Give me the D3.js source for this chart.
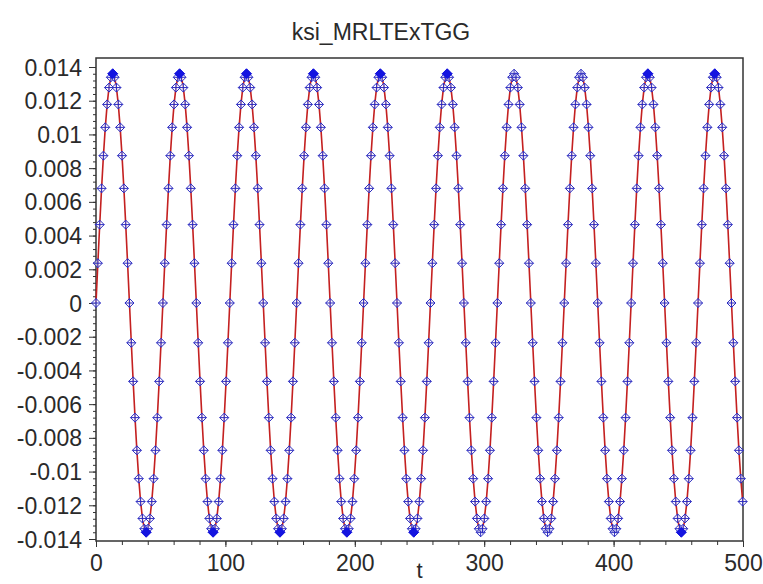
<!DOCTYPE html>
<html><head><meta charset="utf-8">
<script src="https://cdn.jsdelivr.net/npm/d3@7/dist/d3.min.js"></script>
<style>
html,body{margin:0;padding:0;background:#fff;}
svg text{font-family:"Liberation Sans",Arial,sans-serif;fill:#2a2a2a;}
</style></head>
<body>
<svg id="c" width="763" height="584"></svg>
<script>
// ---- data ----
const title = "ksi_MRLTExTGG";
const xLabel = "t";
const tStep = 1.436;            // sampling step of t
const ksi = [
 0,0.00236,0.00465,0.0068,0.00874,0.01042,0.01178,0.01278,0.01339,0.0136,0.01339,0.01278,0.01178,0.01042,0.00874,0.0068,0.00465,0.00236,0,-0.00236,-0.00465,-0.0068,-0.00874,-0.01042,-0.01178,-0.01278,-0.01339,-0.0136,-0.01339,-0.01278,-0.01178,-0.01042,-0.00874,-0.0068,-0.00465,-0.00236,
 0,0.00236,0.00465,0.0068,0.00874,0.01042,0.01178,0.01278,0.01339,0.0136,0.01339,0.01278,0.01178,0.01042,0.00874,0.0068,0.00465,0.00236,0,-0.00236,-0.00465,-0.0068,-0.00874,-0.01042,-0.01178,-0.01278,-0.01339,-0.0136,-0.01339,-0.01278,-0.01178,-0.01042,-0.00874,-0.0068,-0.00465,-0.00236,
 0,0.00236,0.00465,0.0068,0.00874,0.01042,0.01178,0.01278,0.01339,0.0136,0.01339,0.01278,0.01178,0.01042,0.00874,0.0068,0.00465,0.00236,0,-0.00236,-0.00465,-0.0068,-0.00874,-0.01042,-0.01178,-0.01278,-0.01339,-0.0136,-0.01339,-0.01278,-0.01178,-0.01042,-0.00874,-0.0068,-0.00465,-0.00236,
 0,0.00236,0.00465,0.0068,0.00874,0.01042,0.01178,0.01278,0.01339,0.0136,0.01339,0.01278,0.01178,0.01042,0.00874,0.0068,0.00465,0.00236,0,-0.00236,-0.00465,-0.0068,-0.00874,-0.01042,-0.01178,-0.01278,-0.01339,-0.0136,-0.01339,-0.01278,-0.01178,-0.01042,-0.00874,-0.0068,-0.00465,-0.00236,
 0,0.00236,0.00465,0.0068,0.00874,0.01042,0.01178,0.01278,0.01339,0.0136,0.01339,0.01278,0.01178,0.01042,0.00874,0.0068,0.00465,0.00236,0,-0.00236,-0.00465,-0.0068,-0.00874,-0.01042,-0.01178,-0.01278,-0.01339,-0.0136,-0.01339,-0.01278,-0.01178,-0.01042,-0.00874,-0.0068,-0.00465,-0.00236,
 0,0.00236,0.00465,0.0068,0.00874,0.01042,0.01178,0.01278,0.01339,0.0136,0.01339,0.01278,0.01178,0.01042,0.00874,0.0068,0.00465,0.00236,0,-0.00236,-0.00465,-0.0068,-0.00874,-0.01042,-0.01178,-0.01278,-0.01339,-0.0136,-0.01339,-0.01278,-0.01178,-0.01042,-0.00874,-0.0068,-0.00465,-0.00236,
 0,0.00236,0.00465,0.0068,0.00874,0.01042,0.01178,0.01278,0.01339,0.0136,0.01339,0.01278,0.01178,0.01042,0.00874,0.0068,0.00465,0.00236,0,-0.00236,-0.00465,-0.0068,-0.00874,-0.01042,-0.01178,-0.01278,-0.01339,-0.0136,-0.01339,-0.01278,-0.01178,-0.01042,-0.00874,-0.0068,-0.00465,-0.00236,
 0,0.00236,0.00465,0.0068,0.00874,0.01042,0.01178,0.01278,0.01339,0.0136,0.01339,0.01278,0.01178,0.01042,0.00874,0.0068,0.00465,0.00236,0,-0.00236,-0.00465,-0.0068,-0.00874,-0.01042,-0.01178,-0.01278,-0.01339,-0.0136,-0.01339,-0.01278,-0.01178,-0.01042,-0.00874,-0.0068,-0.00465,-0.00236,
 0,0.00236,0.00465,0.0068,0.00874,0.01042,0.01178,0.01278,0.01339,0.0136,0.01339,0.01278,0.01178,0.01042,0.00874,0.0068,0.00465,0.00236,0,-0.00236,-0.00465,-0.0068,-0.00874,-0.01042,-0.01178,-0.01278,-0.01339,-0.0136,-0.01339,-0.01278,-0.01178,-0.01042,-0.00874,-0.0068,-0.00465,-0.00236,
 0,0.00236,0.00465,0.0068,0.00874,0.01042,0.01178,0.01278,0.01339,0.0136,0.01339,0.01278,0.01178,0.01042,0.00874,0.0068,0.00465,0.00236,0,-0.00236,-0.00465,-0.0068,-0.00874,-0.01042,-0.01178
];
// sample indices drawn as solid diamonds (extrema that appear filled)
const solidIdx = [9,27,45,63,81,99,117,135,153,171,189,297,315,333];
const xTicks = [0,100,200,300,400,500];
const yTicks = [-0.014,-0.012,-0.01,-0.008,-0.006,-0.004,-0.002,0,0.002,0.004,0.006,0.008,0.01,0.012,0.014];

// ---- layout ----
const L = 96, R = 743, T = 58, B = 541;
const svg = d3.select("#c");
const x = d3.scaleLinear().domain([0, 500]).range([L, R]);
const y = d3.scaleLinear().domain([-0.014, 0.014]).range([539, 67]);

const pts = ksi.map((v, i) => ({t: i * tStep, v, i}));

// frame
svg.append("rect").attr("x", L).attr("y", T).attr("width", R - L).attr("height", B - T)
  .attr("fill", "none").attr("stroke", "#333").attr("stroke-width", 1.5);

const fmt = v => { const s = String(+v.toFixed(3)); return s === "-0" ? "0" : s; };

// y axis
const yMinor = d3.range(-0.014, 0.01401, 0.0004);
const yAxis = svg.append("g").attr("transform", `translate(${L},0)`)
  .call(d3.axisLeft(y).tickValues(yMinor).tickSize(3).tickFormat(""));
yAxis.select(".domain").remove();
yAxis.selectAll("line").attr("stroke", "#333");
const yMaj = svg.append("g").attr("transform", `translate(${L},0)`)
  .call(d3.axisLeft(y).tickValues(yTicks).tickSize(7).tickPadding(7).tickFormat(fmt));
yMaj.select(".domain").remove();
yMaj.selectAll("line").attr("stroke", "#333");
yMaj.selectAll("text").attr("font-size", 23).attr("dy", "0.35em")
  .style("font-family", '"Liberation Sans",Arial,sans-serif').attr("fill", "#2a2a2a");

// x axis
const xMinor = d3.range(0, 501, 20);
const xAxis = svg.append("g").attr("transform", `translate(0,${B})`)
  .call(d3.axisBottom(x).tickValues(xMinor).tickSize(4).tickFormat(""));
xAxis.select(".domain").remove();
xAxis.selectAll("line").attr("stroke", "#333");
const xMaj = svg.append("g").attr("transform", `translate(0,${B})`)
  .call(d3.axisBottom(x).tickValues(xTicks).tickSize(6).tickPadding(8).tickFormat(d => String(d)));
xMaj.select(".domain").remove();
xMaj.selectAll("line").attr("stroke", "#333");
xMaj.selectAll("text").attr("font-size", 23).attr("dy", "0.71em")
  .style("font-family", '"Liberation Sans",Arial,sans-serif').attr("fill", "#2a2a2a");

// title and axis label
svg.append("text").attr("x", 381).attr("y", 40).attr("text-anchor", "middle")
  .attr("font-size", 23).text(title);
svg.append("text").attr("x", x(250)).attr("y", 578).attr("text-anchor", "middle")
  .attr("font-size", 22).text(xLabel);

// line
svg.append("path").datum(pts)
  .attr("d", d3.line().x(d => x(d.t)).y(d => y(d.v)))
  .attr("fill", "none").attr("stroke", "#c42020").attr("stroke-width", 1.6);

// markers: diamond with cross
const mk = "M0,-4.5L4.5,0L0,4.5L-4.5,0Z M-4.5,0H4.5 M0,-4.5V4.5";
svg.append("g").selectAll("path").data(pts).join("path")
  .attr("transform", d => `translate(${x(d.t)},${y(d.v)})`)
  .attr("d", mk).attr("fill", "#fff").attr("fill-opacity", 0.6)
  .attr("stroke", "#2b2bc0").attr("stroke-width", 1);

const solid = solidIdx.map(i => pts[i]);
svg.append("g").selectAll("path").data(solid).join("path")
  .attr("transform", d => `translate(${x(d.t)},${y(d.v)})`)
  .attr("d", "M0,-5L5,0L0,5L-5,0Z").attr("fill", "#1414e0").attr("stroke", "#1414e0");
</script>
</body></html>
